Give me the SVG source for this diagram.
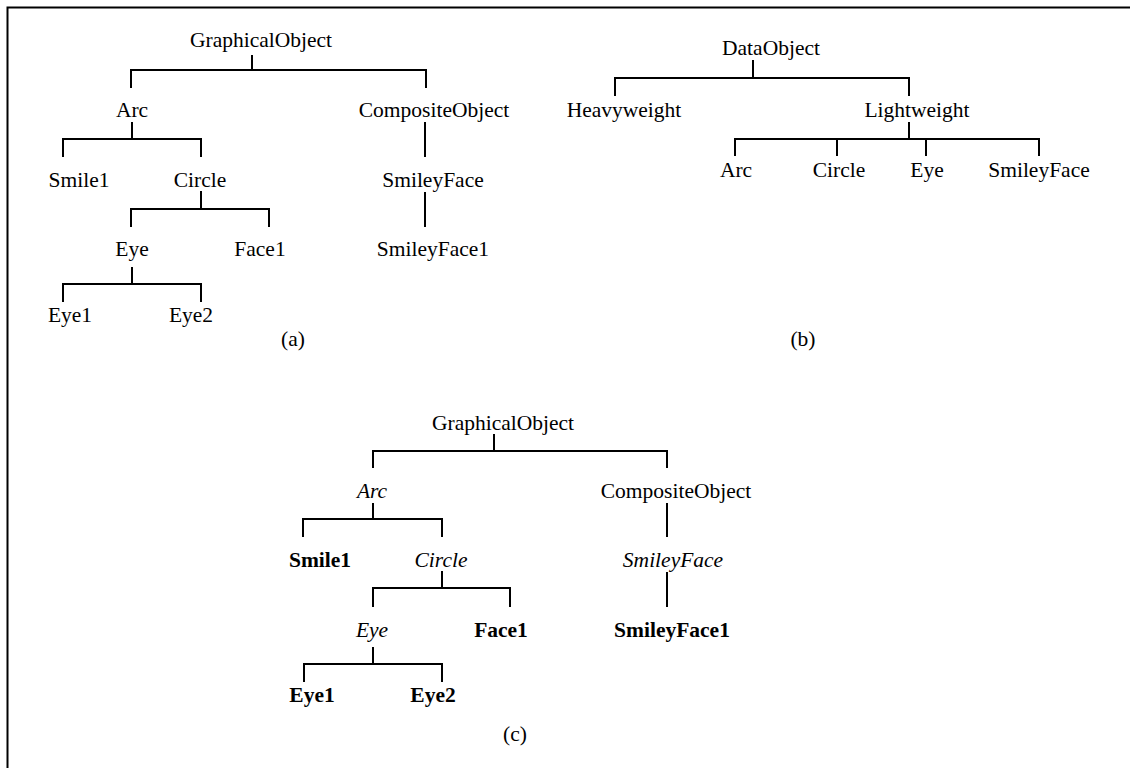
<svg xmlns="http://www.w3.org/2000/svg" width="1130" height="768" viewBox="0 0 1130 768">
<style>
text{font-family:"Liberation Serif","Times New Roman",serif;font-size:21.5px;fill:#000;text-anchor:middle}
.it{font-style:italic}
.bd{font-weight:bold}
.ln{fill:none;stroke:#000;stroke-width:2}
</style>
<rect x="0" y="0" width="1130" height="768" fill="#fff"/>
<g id="frame"><path class="ln" d="M7.5,768 V7.5 H1130"/></g>
<g id="connectors">
<path class="ln" d="M252,55 V70 M131,88 V70 H426 V88"/>
<path class="ln" d="M132,122 V139 M63,157 V139 H201 V157"/>
<path class="ln" d="M425,122 V157"/>
<path class="ln" d="M201,191 V209 M131,227 V209 H269 V227"/>
<path class="ln" d="M425,192 V227"/>
<path class="ln" d="M132,267 V284 M63,302 V284 H201 V302"/>
<path class="ln" d="M753,60 V78 M615,96 V78 H909 V96"/>
<path class="ln" d="M909,122 V139 M735,156 V139 H1039 V156 M837,139 V156 M926,139 V156"/>
<path class="ln" d="M494,434 V451 M373,468 V451 H667 V468"/>
<path class="ln" d="M373,503 V519 M303,537 V519 H442 V537"/>
<path class="ln" d="M667,503 V537"/>
<path class="ln" d="M442,571 V588 M373,607 V588 H510 V607"/>
<path class="ln" d="M667,572 V607"/>
<path class="ln" d="M373,647 V664 M304,682 V664 H442 V682"/>
</g>
<g id="a-GraphicalObject"><text x="261" y="47">GraphicalObject</text></g>
<g id="a-Arc"><text x="132" y="117">Arc</text></g>
<g id="a-CompositeObject"><text x="434" y="117">CompositeObject</text></g>
<g id="a-Smile1"><text x="79" y="187">Smile1</text></g>
<g id="a-Circle"><text x="200" y="187">Circle</text></g>
<g id="a-SmileyFace"><text x="433" y="187">SmileyFace</text></g>
<g id="a-Eye"><text x="132" y="256">Eye</text></g>
<g id="a-Face1"><text x="260" y="256">Face1</text></g>
<g id="a-SmileyFace1"><text x="433" y="256">SmileyFace1</text></g>
<g id="a-Eye1"><text x="70" y="322">Eye1</text></g>
<g id="a-Eye2"><text x="191" y="322">Eye2</text></g>
<g id="label-a"><text x="293" y="346">(a)</text></g>
<g id="b-DataObject"><text x="771" y="55">DataObject</text></g>
<g id="b-Heavyweight"><text x="624" y="117">Heavyweight</text></g>
<g id="b-Lightweight"><text x="917" y="117">Lightweight</text></g>
<g id="b-Arc"><text x="736" y="177">Arc</text></g>
<g id="b-Circle"><text x="839" y="177">Circle</text></g>
<g id="b-Eye"><text x="927" y="177">Eye</text></g>
<g id="b-SmileyFace"><text x="1039" y="177">SmileyFace</text></g>
<g id="label-b"><text x="803" y="346">(b)</text></g>
<g id="c-GraphicalObject"><text x="503" y="430">GraphicalObject</text></g>
<g id="c-Arc"><text class="it" x="372" y="498">Arc</text></g>
<g id="c-CompositeObject"><text x="676" y="498">CompositeObject</text></g>
<g id="c-Smile1"><text class="bd" x="320" y="567">Smile1</text></g>
<g id="c-Circle"><text class="it" x="441" y="567">Circle</text></g>
<g id="c-SmileyFace"><text class="it" x="673" y="567">SmileyFace</text></g>
<g id="c-Eye"><text class="it" x="372" y="637">Eye</text></g>
<g id="c-Face1"><text class="bd" x="501" y="637">Face1</text></g>
<g id="c-SmileyFace1"><text class="bd" x="672" y="637">SmileyFace1</text></g>
<g id="c-Eye1"><text class="bd" x="312" y="702">Eye1</text></g>
<g id="c-Eye2"><text class="bd" x="433" y="702">Eye2</text></g>
<g id="label-c"><text x="515" y="741">(c)</text></g>
</svg>
